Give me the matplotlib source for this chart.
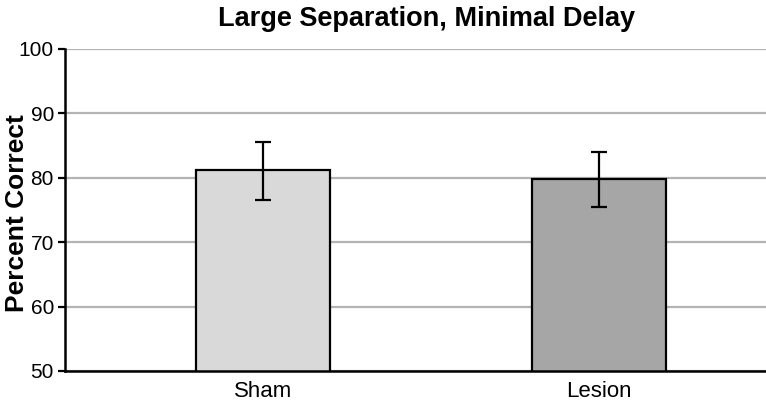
import matplotlib.pyplot as plt

groups = ["Sham", "Lesion"]
means = [81.15, 79.75]
err_low = [4.55, 4.35]
err_high = [4.45, 4.25]
bar_colors = ["#d9d9d9", "#a6a6a6"]
y_ticks = [50, 60, 70, 80, 90, 100]

plt.rcParams['font.family'] = ['Liberation Sans', 'DejaVu Sans']

fig = plt.figure(figsize=(7.66, 4.09), dpi=100)
# plot area runs a bit past the right edge, as in the source image
ax = fig.add_axes([65 / 766, 1 - 371 / 409, (797 - 65) / 766, (371 - 49) / 409])

x = range(len(groups))
ax.bar(x, means, width=0.4, color=bar_colors, edgecolor="black", linewidth=1.6, zorder=3)
ax.errorbar(x, means, yerr=[err_low, err_high], fmt="none", ecolor="black",
            elinewidth=1.6, capsize=6, capthick=1.6, zorder=4)

ax.set_xlim(-0.5925, 1.5925)
ax.set_ylim(50, 100)
ax.set_yticks(y_ticks)
ax.set_xticks(list(x))
ax.set_xticklabels(groups, fontsize=16)
ax.set_yticklabels([str(t) for t in y_ticks], fontsize=15)
ax.tick_params(axis="x", length=0, pad=7)
ax.tick_params(axis="y", length=5, width=1.6, pad=3)

ax.grid(axis="y", color="#b3b3b3", linewidth=1.6, zorder=0)
ax.set_axisbelow(True)
for s in ["top", "right"]:
    ax.spines[s].set_visible(False)
for s in ["left", "bottom"]:
    ax.spines[s].set_linewidth(1.8)
    ax.spines[s].set_zorder(5)

fig.text(17 / 766, 1 - 213 / 409, "Percent Correct", rotation=90, ha="center", va="center",
         fontweight="bold", fontsize=19)
fig.text(427 / 766, 1 - 19 / 409, "Large Separation, Minimal Delay", ha="center", va="center",
         fontweight="bold", fontsize=19.5)

fig.savefig("out.png", dpi=100)
